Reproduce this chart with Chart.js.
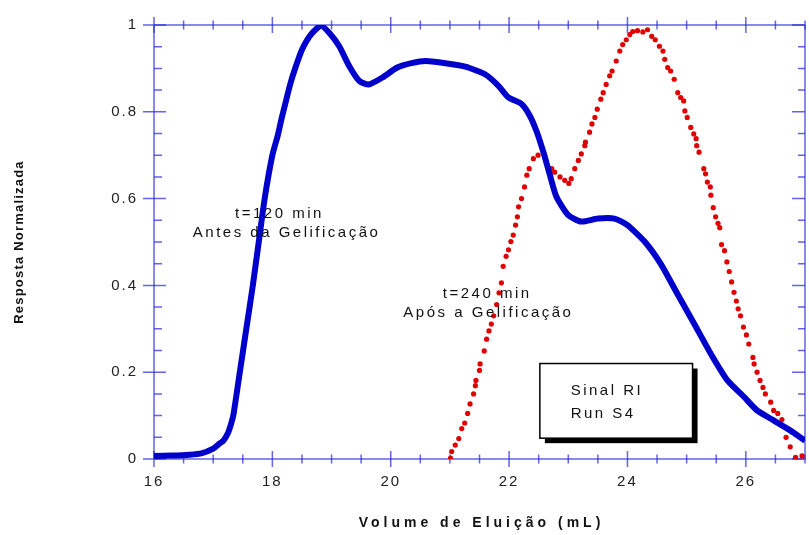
<!DOCTYPE html>
<html>
<head>
<meta charset="utf-8">
<script src="https://cdn.jsdelivr.net/npm/chart.js@4.4.1/dist/chart.umd.min.js"></script>
<style>
  html, body { margin: 0; padding: 0; background: #fff; }
  canvas { display: block; }
</style>
</head>
<body>
<canvas id="chart" width="809" height="535"></canvas>
<script>
// t=120 min (antes da gelificacao)
const blueX = [16.0, 16.3, 16.6, 16.8, 17.0, 17.11, 17.17, 17.25, 17.3, 17.34, 17.45, 17.56, 17.67, 17.77, 17.87,
  18.0, 18.09, 18.16, 18.23, 18.3, 18.39, 18.5, 18.65, 18.82, 18.96, 19.13,
  19.3, 19.47, 19.63, 19.86, 20.11, 20.35, 20.59, 20.87, 21.26, 21.6, 21.82, 21.99, 22.21, 22.35, 22.47,
  22.58, 22.69, 22.8, 23.0, 23.22, 23.5, 23.78, 24.0, 24.29, 24.57, 24.85, 25.13, 25.41, 25.69, 25.97,
  26.19, 26.47, 26.75, 26.95, 27.0];
const blueY = [0.007, 0.008, 0.01, 0.013, 0.024, 0.036, 0.042, 0.06, 0.08, 0.1, 0.2, 0.3, 0.4, 0.5, 0.6,
  0.7, 0.745, 0.787, 0.825, 0.863, 0.902, 0.943, 0.978, 0.998, 0.982, 0.951,
  0.905, 0.871, 0.863, 0.879, 0.902, 0.912, 0.917, 0.913, 0.904, 0.886, 0.86, 0.833, 0.818, 0.791, 0.753,
  0.707, 0.654, 0.604, 0.562, 0.547, 0.554, 0.554, 0.539, 0.501, 0.448, 0.379, 0.311, 0.242, 0.181, 0.143,
  0.112, 0.089, 0.066, 0.047, 0.042];

// t=240 min (apos a gelificacao)
const redX = [21.01, 21.03, 21.09, 21.15, 21.2, 21.25, 21.3, 21.34, 21.4, 21.43, 21.44, 21.5, 21.51, 21.58, 21.62,
  21.66, 21.7, 21.74, 21.79, 21.83, 21.87, 21.9, 21.95, 21.99, 22.03, 22.07, 22.11, 22.14, 22.16, 22.21,
  22.26, 22.3, 22.34, 22.41, 22.49, 22.6, 22.72, 22.77, 22.86, 22.94, 23.01, 23.05, 23.11, 23.17, 23.22,
  23.28, 23.29, 23.36, 23.4, 23.45, 23.49, 23.55, 23.59, 23.64, 23.7, 23.74, 23.81, 23.87, 23.92, 23.98,
  24.04, 24.09, 24.17, 24.26, 24.34, 24.41, 24.47, 24.54, 24.6, 24.63, 24.68, 24.73, 24.79, 24.85, 24.9,
  24.95, 24.97, 25.01, 25.07, 25.12, 25.16, 25.17, 25.21, 25.29, 25.32, 25.35, 25.4, 25.41, 25.45, 25.49,
  25.53, 25.56, 25.59, 25.64, 25.68, 25.72, 25.76, 25.8, 25.84, 25.87, 25.91, 25.96, 26.01, 26.05, 26.12,
  26.14, 26.19, 26.24, 26.29, 26.33, 26.42, 26.47, 26.54, 26.61, 26.68, 26.75, 26.84, 26.95];
const redY = [0.002, 0.017, 0.032, 0.047, 0.07, 0.083, 0.105, 0.127, 0.15, 0.169, 0.181, 0.204, 0.219, 0.249, 0.276,
  0.295, 0.311, 0.33, 0.356, 0.383, 0.406, 0.444, 0.467, 0.482, 0.501, 0.516, 0.539, 0.558, 0.581, 0.6,
  0.627, 0.654, 0.669, 0.692, 0.7, 0.7, 0.669, 0.661, 0.65, 0.642, 0.635, 0.646, 0.669, 0.688, 0.703,
  0.722, 0.73, 0.753, 0.772, 0.787, 0.806, 0.829, 0.844, 0.863, 0.883, 0.894, 0.917, 0.94, 0.955, 0.966,
  0.978, 0.985, 0.987, 0.984, 0.989, 0.974, 0.966, 0.951, 0.94, 0.921, 0.902, 0.894, 0.875, 0.844, 0.833,
  0.825, 0.802, 0.787, 0.764, 0.749, 0.738, 0.722, 0.707, 0.669, 0.657, 0.638, 0.627, 0.608, 0.579, 0.558,
  0.543, 0.533, 0.494, 0.48, 0.454, 0.432, 0.408, 0.384, 0.364, 0.346, 0.33, 0.304, 0.286, 0.265, 0.234,
  0.219, 0.2, 0.181, 0.165, 0.15, 0.131, 0.112, 0.105, 0.091, 0.05, 0.028, 0.004, 0.007];

const xTicks = [16, 18, 20, 22, 24, 26];
const yTicks = [0, 0.2, 0.4, 0.6, 0.8, 1];
const xTitle = 'Volume de Eluição (mL)';
const yTitle = 'Resposta Normalizada';

// text labels placed in data units
const notes = [
  { text: 't=120 min', x: 18.12, y: 0.565 },
  { text: 'Antes da Gelificação', x: 18.24, y: 0.522 },
  { text: 't=240 min', x: 21.63, y: 0.38 },
  { text: 'Após a Gelificação', x: 21.65, y: 0.336 }
];
const boxLines = ['Sinal RI', 'Run S4'];
const boxPos = { x0: 22.52, x1: 25.1, y0: 0.22, y1: 0.048, tx: 23.04 };

const FONT = "'Liberation Sans', Arial, sans-serif";
const AXIS = 'rgba(40,40,220,0.72)';

const frame = {
  id: 'frame',
  beforeDraw(chart) {
    chart.ctx.letterSpacing = '2px';
  },
  beforeDatasetsDraw(chart) {
    const { ctx, chartArea: a, scales: { x, y } } = chart;
    ctx.save();
    ctx.strokeStyle = AXIS;
    ctx.lineWidth = 1.5;
    ctx.strokeRect(a.left, a.top, a.right - a.left, a.bottom - a.top);
    ctx.beginPath();
    for (let i = 0; i <= 22; i++) {
      const px = x.getPixelForValue(16 + i * 0.5);
      const h = i % 4 === 0 ? 8 : 4.5;
      ctx.moveTo(px, a.bottom - h); ctx.lineTo(px, a.bottom + h);
      ctx.moveTo(px, a.top - h); ctx.lineTo(px, a.top + h);
    }
    for (let i = 0; i <= 20; i++) {
      const py = y.getPixelForValue(i * 0.05);
      if (i % 4 === 0) {
        ctx.moveTo(a.left - 11, py); ctx.lineTo(a.left + 12, py);
        ctx.moveTo(a.right - 13, py); ctx.lineTo(a.right, py);
      } else {
        ctx.moveTo(a.left, py); ctx.lineTo(a.left + 8, py);
        ctx.moveTo(a.right - 7, py); ctx.lineTo(a.right, py);
      }
    }
    ctx.stroke();
    ctx.restore();
  },
  afterDraw(chart) {
    const { ctx, chartArea: a, scales: { x, y } } = chart;
    ctx.save();
    // box with drop shadow
    const bx0 = x.getPixelForValue(boxPos.x0), bx1 = x.getPixelForValue(boxPos.x1);
    const by0 = y.getPixelForValue(boxPos.y0), by1 = y.getPixelForValue(boxPos.y1);
    ctx.fillStyle = '#000';
    ctx.fillRect(bx0 + 5, by0 + 5, bx1 - bx0, by1 - by0);
    ctx.fillStyle = '#fff';
    ctx.fillRect(bx0, by0, bx1 - bx0, by1 - by0);
    ctx.strokeStyle = '#000';
    ctx.lineWidth = 1.5;
    ctx.strokeRect(bx0, by0, bx1 - bx0, by1 - by0);

    ctx.fillStyle = '#111';
    ctx.font = '15px ' + FONT;
    ctx.letterSpacing = '2.5px';
    ctx.textBaseline = 'middle';
    ctx.textAlign = 'left';
    const tx = x.getPixelForValue(boxPos.tx);
    ctx.fillText(boxLines[0], tx, by0 + 27);
    ctx.fillText(boxLines[1], tx, by0 + 50);

    ctx.textAlign = 'center';
    notes.forEach(n => ctx.fillText(n.text, x.getPixelForValue(n.x), y.getPixelForValue(n.y)));

    // axis titles
    ctx.font = 'bold 14px ' + FONT;
    ctx.letterSpacing = '4px';
    ctx.fillText(xTitle, (a.left + a.right) / 2 + 2, 523);
    ctx.font = 'bold 13px ' + FONT;
    ctx.letterSpacing = '1.2px';
    ctx.translate(19, (a.top + a.bottom) / 2);
    ctx.rotate(-Math.PI / 2);
    ctx.fillText(yTitle, 0, 0);
    ctx.restore();
  }
};

const ctx = document.getElementById('chart').getContext('2d');
new Chart(ctx, {
  type: 'scatter',
  data: {
    datasets: [
      {
        label: 't=120 min',
        data: blueX.map((v, i) => ({ x: v, y: blueY[i] })),
        showLine: true,
        borderColor: '#0000cc',
        backgroundColor: '#0000cc',
        borderWidth: 6,
        pointRadius: 0,
        tension: 0.2
      },
      {
        label: 't=240 min',
        data: redX.map((v, i) => ({ x: v, y: redY[i] })),
        showLine: false,
        pointStyle: 'circle',
        pointRadius: 2.6,
        borderWidth: 0,
        backgroundColor: '#e00000'
      }
    ]
  },
  options: {
    responsive: false,
    devicePixelRatio: 1,
    animation: false,
    layout: { padding: { top: 22, right: 1, left: 0, bottom: 0 } },
    plugins: { legend: { display: false }, tooltip: { enabled: false } },
    scales: {
      x: {
        type: 'linear', min: 16, max: 27,
        grid: { display: false, drawTicks: false },
        border: { display: false },
        ticks: { padding: 14, color: '#222', font: { family: FONT, size: 15 }, autoSkip: false, maxRotation: 0 },
        afterBuildTicks: s => { s.ticks = xTicks.map(v => ({ value: v })); },
        afterFit: s => { s.height = 76; }
      },
      y: {
        type: 'linear', min: 0, max: 1,
        grid: { display: false, drawTicks: false },
        border: { display: false },
        ticks: {
          padding: 16, color: '#222', font: { family: FONT, size: 15 },
          callback: v => String(Math.round(v * 10) / 10)
        },
        afterBuildTicks: s => { s.ticks = yTicks.map(v => ({ value: v })); },
        afterFit: s => { s.width = 154; }
      }
    }
  },
  plugins: [frame]
});
</script>
</body>
</html>
